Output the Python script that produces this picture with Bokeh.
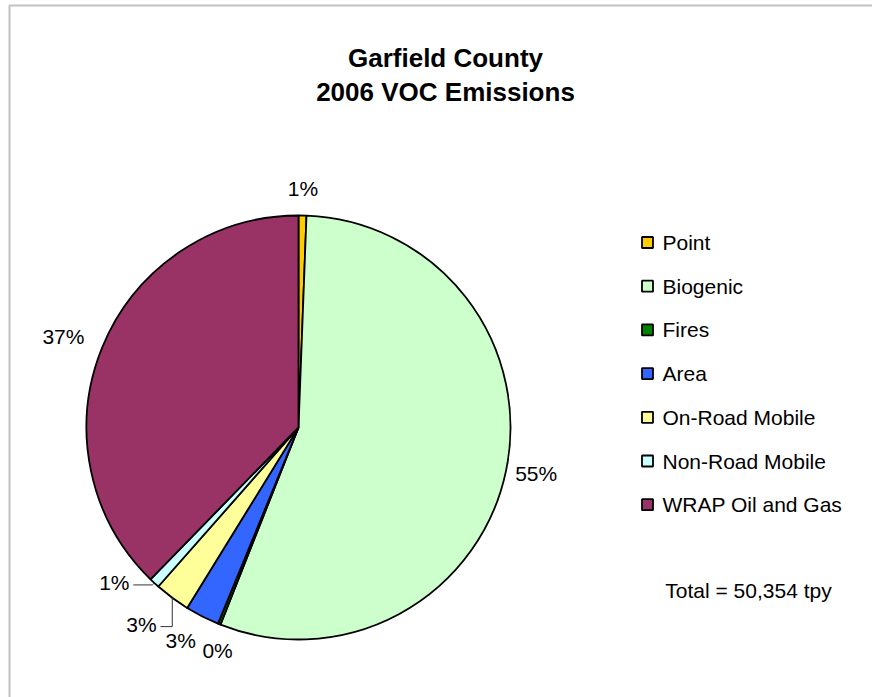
import math
from bokeh.plotting import figure
from bokeh.models import Range1d, BoxAnnotation, ColumnDataSource
from bokeh.core.properties import value
from bokeh.embed import file_html
from bokeh.resources import INLINE

categories = ["Point", "Biogenic", "Fires", "Area", "On-Road Mobile", "Non-Road Mobile", "WRAP Oil and Gas"]
shares = [0.6, 55.4, 0.2, 2.6, 2.7, 0.8, 37.7]
pct_labels = ["1%", "55%", "0%", "3%", "3%", "1%", "37%"]
colors = ["#FFCC00", "#CCFFCC", "#008000", "#3366FF", "#FFFF99", "#CCFFFF", "#993366"]
title_lines = ["Garfield County", "2006 VOC Emissions"]
total_text = "Total = 50,354 tpy"

W, H = 872, 697
FONT = value("Liberation Sans")

def sy(y):
    return H - y

cx, cy, R = 298, sy(427), 212

p = figure(width=W, height=H, output_backend="svg", toolbar_location=None,
           x_range=Range1d(0, W), y_range=Range1d(0, H), min_border=0)
p.axis.visible = False
p.grid.visible = False
p.outline_line_color = None
p.background_fill_color = "white"
p.border_fill_color = "white"

p.add_layout(BoxAnnotation(left=9, right=W + 20, top=sy(5), bottom=-20,
                           fill_alpha=0, line_color="#333333", line_width=2))

# wedge angles (clockwise from 12 o'clock)
total = sum(shares)
cum = [0]
for s in shares:
    cum.append(cum[-1] + s / total * 360.0)
starts_cw = cum[:-1]
ends_cw = cum[1:]
mids_cw = [(a + b) / 2 for a, b in zip(starts_cw, ends_cw)]

src = ColumnDataSource(dict(
    x=[cx] * len(shares), y=[cy] * len(shares),
    start=[math.radians(90 - e) for e in ends_cw],
    end=[math.radians(90 - s) for s in starts_cw],
    color=colors, name=categories))
p.wedge(x="x", y="y", radius=R, radius_units="screen", start_angle="start", end_angle="end",
        fill_color="color", line_color="black", line_width=1.8, source=src)

# percentage labels
label_r = [239, 242, 237, 243, 252, 241, 252]
label_da = [0, -1, -2, 2, 2, 7, -1]
lx, ly = [], []
for m, r, da in zip(mids_cw, label_r, label_da):
    a = math.radians(m + da)
    lx.append(cx + r * math.sin(a))
    ly.append(cy + r * math.cos(a))
p.text(x=lx, y=ly, text=pct_labels, text_font=FONT, text_font_size="21px",
       text_align="center", text_baseline="middle", text_color="black")

# leader lines for On-Road and Non-Road labels
for i in (4, 5):
    a = math.radians(mids_cw[i])
    ex, ey = cx + R * math.sin(a), cy + R * math.cos(a)
    tx, ty = lx[i] + 19, ly[i] - 2
    if i == 4:
        xs, ys = [tx, ex, ex], [ty, ty, ey]
    else:
        xs, ys = [tx, ex - 2, ex], [ty, ty, ey]
    p.line(xs, ys, line_color="#333333", line_width=1)

# title
p.text(x=[445, 445], y=[sy(57), sy(91)], text=title_lines, text_font=FONT,
       text_font_style="bold", text_font_size="26px", text_align="center",
       text_baseline="middle", text_color="black")

# legend
leg_y = [sy(242 + i * 43.7) for i in range(len(categories))]
p.rect(x=[647] * len(categories), y=leg_y, width=11, height=11, width_units="screen",
       height_units="screen", fill_color=colors, line_color="black", line_width=1.8)
p.text(x=[662] * len(categories), y=leg_y, text=categories, text_font=FONT,
       text_font_size="21px", text_align="left", text_baseline="middle", text_color="black")

p.text(x=[748], y=[sy(590)], text=[total_text], text_font=FONT, text_font_size="21px",
       text_align="center", text_baseline="middle", text_color="black")

open("out.html", "w").write(file_html(p, INLINE))
